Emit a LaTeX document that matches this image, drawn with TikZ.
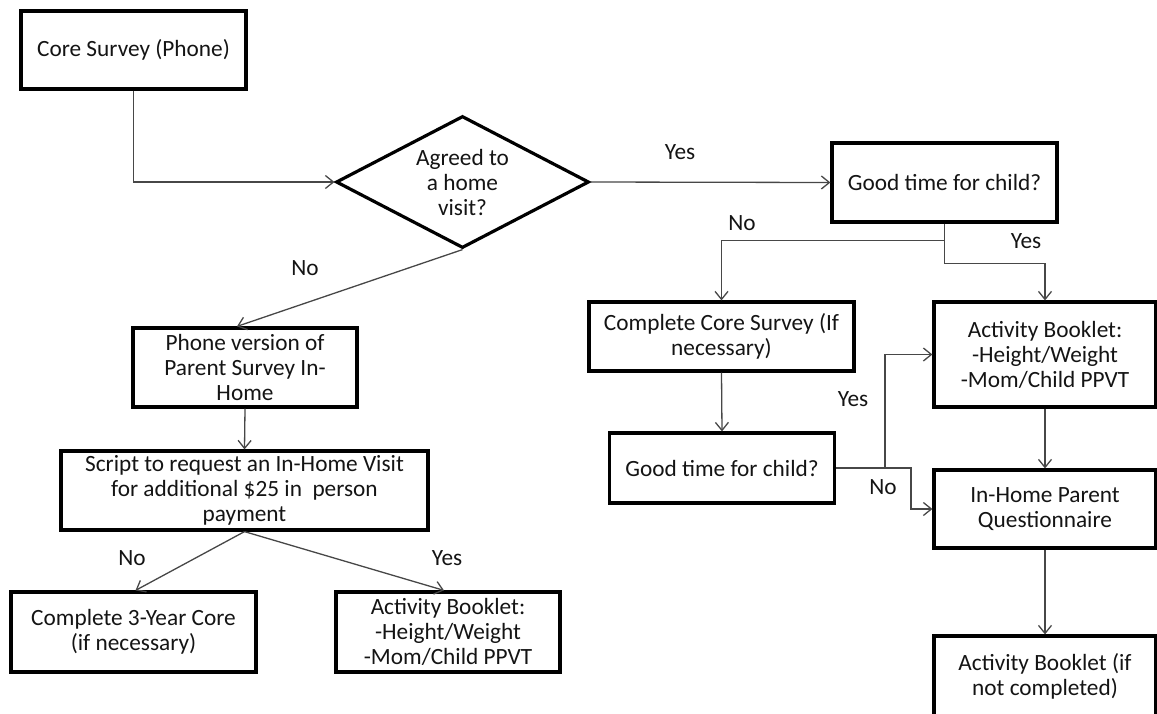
\documentclass[tikz,border=0pt]{standalone}
\usepackage{fontspec}
\setmainfont{Carlito}
\usetikzlibrary{shapes.geometric,arrows.meta}
\begin{document}
\begin{tikzpicture}[x=1pt,y=-1pt,
  txt/.style={font=\fontsize{23.3}{25}\selectfont,text=black!92},
  box/.style={txt,draw=black,line width=3.2pt,inner sep=0pt,align=center},
  decision/.style={box,shape=diamond,aspect=1.92},
  conn/.style={draw=black!72,line width=1.3pt,-{Straight Barb[length=8pt,width=13pt]}},
  lbl/.style={txt,inner sep=0pt}]
\useasboundingbox (0,0) rectangle (1157,713);
\clip (0,0) rectangle (1157,713);

% main trunk
\node[box,minimum width=225pt,minimum height=78pt] (core) at (133.5,50) {Core Survey (Phone)};
\node[decision,minimum width=253pt,minimum height=132pt] (dia) at (462.5,182) {Agreed to\\a home\\visit?};
\node[box,minimum width=225pt,minimum height=79pt] (good1) at (944.5,182.5) {Good time for child?};

% "yes" side
\node[box,minimum width=265pt,minimum height=69pt] (cc) at (721.5,336.5) {Complete Core Survey (If\\necessary)};
\node[box,minimum width=225pt,minimum height=70pt] (good2) at (722,468) {Good time for child?};
\node[box,minimum width=222pt,minimum height=105pt] (ab1) at (1045,354.5) {Activity Booklet:\\-Height/Weight\\-Mom/Child PPVT};
\node[box,minimum width=222pt,minimum height=78pt] (ih) at (1045,509) {In-Home Parent\\Questionnaire};
\node[box,minimum width=222pt,minimum height=80pt] (ab2) at (1045,676) {Activity Booklet (if\\not completed)};

% "no" side
\node[box,minimum width=224pt,minimum height=79pt] (phone) at (245,367.5) {Phone version of\\Parent Survey In-\\Home};
\node[box,minimum width=367pt,minimum height=79pt] (script) at (244.5,490.5) {Script to request an In-Home Visit\\for additional \$25 in\ \ person\\payment};
\node[box,minimum width=245pt,minimum height=80pt] (c3) at (133.5,632) {Complete 3-Year Core\\(if necessary)};
\node[box,minimum width=224pt,minimum height=80pt] (ab3) at (448,632) {Activity Booklet:\\-Height/Weight\\-Mom/Child PPVT};

% connectors
\draw[conn] (core.south) |- (dia.west);
\draw[conn] (dia.east) -- (good1.west);
\draw[conn] (dia.south) -- ([xshift=-8pt]phone.north);
\draw[conn] (good1.south) -- ++(0,17) -| (cc.north);
\draw[conn] (good1.south) -- ++(0,40) -| (ab1.north);
\draw[conn] (cc.south) -- (good2.north);
\draw[conn] (good2.east) -- ++(75,0) |- (ih.west);
\draw[conn] ([xshift=49pt]good2.east) |- (ab1.west);
\draw[conn] (ab1.south) -- (ih.north);
\draw[conn] (ih.south) -- (ab2.north);
\draw[conn] (phone.south) -- (script.north);
\draw[conn] (script.south) -- ([xshift=2pt]c3.north);
\draw[conn] (script.south) -- ([xshift=-4pt]ab3.north);

% branch labels
\node[lbl] (yes1) at (680,152) {Yes};
\node[lbl] (no1) at (305,268) {No};
\node[lbl] (no2) at (742,223) {No};
\node[lbl] (yes2) at (1026,241) {Yes};
\node[lbl] (yes3) at (853,399) {Yes};
\node[lbl] (no3) at (883,487) {No};
\node[lbl] (no4) at (132,558) {No};
\node[lbl] (yes4) at (447,558) {Yes};
\end{tikzpicture}
\end{document}
